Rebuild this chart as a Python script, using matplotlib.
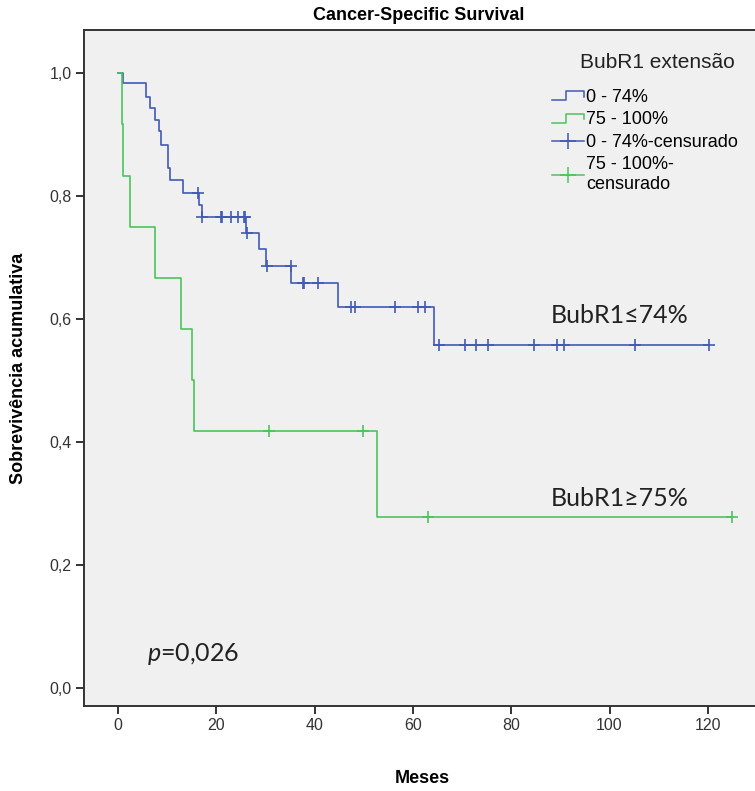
import matplotlib
matplotlib.use("Agg")
import matplotlib.pyplot as plt
import numpy as np
from matplotlib.lines import Line2D
from matplotlib.legend_handler import HandlerBase

# Kaplan-Meier curves (months, cumulative survival)
BLUE_TIMES = [0, 1.1, 5.7, 6.6, 7.6, 8.4, 8.8, 10.1, 10.5, 13.2, 16.4, 17.1,
              26.1, 28.6, 30.2, 35.25, 44.8, 64.2]
BLUE_SURV = [1.0, 0.983, 0.961, 0.943, 0.924, 0.905, 0.883, 0.845, 0.826, 0.805,
             0.785, 0.765, 0.740, 0.713, 0.686, 0.658, 0.620, 0.558]
BLUE_CENSORED = [16.2, 17.2, 21.0, 21.2, 23.1, 24.4, 25.6, 25.9, 26.3, 30.4, 35.2,
                 37.6, 37.9, 40.6, 47.5, 48.2, 56.4, 61.1, 62.5, 65.3, 70.6, 72.8,
                 75.2, 84.7, 89.3, 90.8, 105.1, 120.2]

GREEN_TIMES = [0, 0.9, 1.1, 2.4, 7.6, 12.9, 15.0, 15.4, 52.6]
GREEN_SURV = [1.0, 0.917, 0.833, 0.75, 0.667, 0.583, 0.5, 0.417, 0.278]
GREEN_CENSORED = [30.7, 49.8, 63.0, 125.0]

X_TICKS = [0, 20, 40, 60, 80, 100, 120]
Y_TICKS = [0.0, 0.2, 0.4, 0.6, 0.8, 1.0]
Y_TICK_LABELS = ["0,0", "0,2", "0,4", "0,6", "0,8", "1,0"]

LEGEND_TITLE = "BubR1 extensão"
LEGEND_LABELS = ["0 - 74%", "75 - 100%", "0 - 74%-censurado", "75 - 100%-\ncensurado"]

BLUE = "#4159B4"
GREEN = "#4CC35D"
SANS = ["Liberation Sans", "DejaVu Sans"]
CALIBRI_LIKE = ["Lato", "DejaVu Sans"]

plt.rcParams["mathtext.fontset"] = "custom"
plt.rcParams["mathtext.it"] = "Lato:italic"
plt.rcParams["mathtext.rm"] = "Lato"


def surv_at(times, surv, t):
    idx = np.searchsorted(times, t, side="right") - 1
    return np.asarray(surv)[idx]


class StepHandler(HandlerBase):
    # SPSS-like step glyph for the survival-function legend entries
    def create_artists(self, legend, orig_handle, xdescent, ydescent,
                       width, height, fontsize, trans):
        x0 = -xdescent
        xs = [x0, x0 + width * 0.45, x0 + width * 0.45, x0 + width, x0 + width]
        lo, hi = -ydescent + height * 0.15, -ydescent + height * 0.85
        ys = [lo, lo, hi, hi, hi - height * 0.45]
        line = Line2D(xs, ys, color=orig_handle.get_color(), lw=1.1, transform=trans)
        return [line]


fig = plt.figure(figsize=(7.55, 7.91), dpi=100)
ax = fig.add_axes([84 / 755, 85 / 791, 676 / 755, 676 / 791])
ax.set_facecolor("#F0F0F0")

for times, surv, cens, color, end in [
    (BLUE_TIMES, BLUE_SURV, BLUE_CENSORED, BLUE, max(BLUE_CENSORED)),
    (GREEN_TIMES, GREEN_SURV, GREEN_CENSORED, GREEN, max(GREEN_CENSORED)),
]:
    ax.step(times + [end], surv + [surv[-1]], where="post", color=color, lw=1.2)
    ax.plot(cens, surv_at(times, surv, cens), linestyle="none", marker="+",
            markersize=9, mew=1.2, color=color)

ax.set_xlim(-6.9, 130.6)
ax.set_ylim(-0.03, 1.07)
ax.set_xticks(X_TICKS)
ax.set_yticks(Y_TICKS)
ax.set_yticklabels(Y_TICK_LABELS)
ax.tick_params(direction="out", length=6, width=1.4, colors="#333333",
               labelsize=11.5, pad=3)
for lab in ax.get_xticklabels() + ax.get_yticklabels():
    lab.set_family(SANS)
for side in ["left", "bottom", "top"]:
    ax.spines[side].set_color("#333333")
    ax.spines[side].set_linewidth(1.4)
ax.spines["right"].set_visible(False)

ax.set_xlabel("Meses", fontsize=13, fontweight="bold", family=SANS, labelpad=26)
ax.set_ylabel("Sobrevivência acumulativa", fontsize=13, fontweight="bold",
              family=SANS, labelpad=16)
fig.text(419 / 755, 1 - 15 / 791, "Cancer-Specific Survival", ha="center", va="center",
         fontsize=13, fontweight="bold", family=SANS)

ax.text(88, 0.605, "BubR1≤74%", fontsize=18, family=CALIBRI_LIKE,
        va="center", color="#222222")
ax.text(88, 0.308, "BubR1≥75%", fontsize=18, family=CALIBRI_LIKE,
        va="center", color="#222222")
ax.text(6, 0.055, r"$\it{p}$=0,026", fontsize=18, family=CALIBRI_LIKE,
        va="center", color="#222222")

# legend title drawn separately to get the SPSS spacing
fig.text(580 / 755, 1 - 62 / 791, LEGEND_TITLE, ha="left", va="center",
         fontsize=15, family=SANS, color="#222222")

handles = [
    Line2D([], [], color=BLUE),
    Line2D([], [], color=GREEN),
    Line2D([], [], color=BLUE, marker="+", markersize=11, mew=1.1, lw=1.1),
    Line2D([], [], color=GREEN, marker="+", markersize=11, mew=1.1, lw=1.1),
]
handler = StepHandler()
leg = ax.legend(handles, LEGEND_LABELS, loc="upper left",
                bbox_to_anchor=(552 / 755, 1 - 89 / 791), bbox_transform=fig.transFigure,
                handler_map={handles[0]: handler, handles[1]: handler},
                prop={"family": SANS, "size": 13},
                frameon=False, handlelength=1.75, handletextpad=0.15,
                labelspacing=0.3, borderpad=0.0, borderaxespad=0.0)

fig.savefig("out.png", dpi=100, facecolor="white")
